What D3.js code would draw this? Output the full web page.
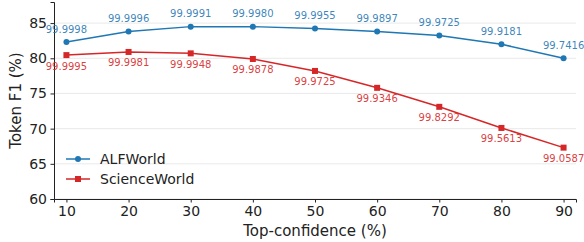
<!DOCTYPE html>
<html>
<head>
<meta charset="utf-8">
<script src="https://cdn.jsdelivr.net/npm/d3@7"></script>
<style>
  body { margin: 0; background: #fff; }
  text { font-family: "DejaVu Sans", sans-serif; }
</style>
</head>
<body>
<div id="root"></div>
<script>
const confidence = [10, 20, 30, 40, 50, 60, 70, 80, 90]
const alfworld = [82.3, 83.8, 84.5, 84.5, 84.25, 83.8, 83.25, 82.0, 80.0]
const alfLabels = ['99.9998', '99.9996', '99.9991', '99.9980', '99.9955', '99.9897', '99.9725', '99.9181', '99.7416']
const scienceworld = [80.45, 80.9, 80.7, 79.9, 78.2, 75.8, 73.1, 70.1, 67.3]
const sciLabels = ['99.9995', '99.9981', '99.9948', '99.9878', '99.9725', '99.9346', '99.8292', '99.5613', '99.0587']
const yTicks = [60, 65, 70, 75, 80, 85]

const width = 584
const height = 242
const margin = { top: 2, right: 8, bottom: 43, left: 54 }

const svg = d3.select('#root').append('svg')
  .attr('width', width)
  .attr('height', height)

const x = d3.scaleLinear().domain([8, 92]).range([margin.left, width - margin.right])
const y = d3.scaleLinear().domain([60, 88]).range([height - margin.bottom, margin.top])

// grid
svg.append('g')
  .selectAll('line')
  .data(yTicks)
  .join('line')
  .attr('x1', margin.left)
  .attr('x2', width - margin.right)
  .attr('y1', d => y(d))
  .attr('y2', d => y(d))
  .attr('stroke', '#e3e3e3')
  .attr('stroke-width', 0.8)

const xAxis = svg.append('g')
  .attr('transform', `translate(0,${height - margin.bottom})`)
  .call(d3.axisBottom(x).tickValues(confidence).tickSize(3.5).tickPadding(3.5))
const yAxis = svg.append('g')
  .attr('transform', `translate(${margin.left},0)`)
  .call(d3.axisLeft(y).tickValues(yTicks).tickSize(3.5).tickPadding(3.5))

for (const ax of [xAxis, yAxis]) {
  ax.selectAll('text').attr('font-size', 14).attr('fill', '#222').style('font-family', '"DejaVu Sans", sans-serif')
  ax.selectAll('line').attr('stroke', '#222')
  ax.select('.domain').attr('stroke', '#222')
}

svg.append('text')
  .attr('x', (margin.left + width - margin.right) / 2)
  .attr('y', 236)
  .attr('text-anchor', 'middle')
  .attr('font-size', 15)
  .attr('fill', '#222')
  .text('Top-confidence (%)')

svg.append('text')
  .attr('transform', `translate(21,${(margin.top + height - margin.bottom) / 2}) rotate(-90)`)
  .attr('text-anchor', 'middle')
  .attr('font-size', 15)
  .attr('fill', '#222')
  .text('Token F1 (%)')

const line = d3.line().x((d, i) => x(confidence[i])).y(d => y(d))

const series = [
  { name: 'ALFWorld', values: alfworld, labels: alfLabels, color: '#1f77b4', marker: 'circle', dy: -9.5 },
  { name: 'ScienceWorld', values: scienceworld, labels: sciLabels, color: '#d62728', marker: 'square', dy: 14.5 }
]

function marker (g, s, cx, cy) {
  if (s.marker === 'circle') {
    g.append('circle').attr('cx', cx).attr('cy', cy).attr('r', 3).attr('fill', s.color)
  } else {
    g.append('rect').attr('x', cx - 3).attr('y', cy - 3).attr('width', 6).attr('height', 6).attr('fill', s.color)
  }
}

series.forEach(s => {
  const g = svg.append('g')
  g.append('path')
    .datum(s.values)
    .attr('fill', 'none')
    .attr('stroke', s.color)
    .attr('stroke-width', 1.5)
    .attr('d', line)
  s.values.forEach((v, i) => marker(g, s, x(confidence[i]), y(v)))
  g.selectAll('text.lab')
    .data(s.values)
    .join('text')
    .attr('class', 'lab')
    .attr('x', (d, i) => x(confidence[i]))
    .attr('y', d => y(d) + s.dy)
    .attr('text-anchor', 'middle')
    .attr('font-size', 10)
    .attr('fill', s.color)
    .attr('fill-opacity', 0.9)
    .text((d, i) => s.labels[i])
})

// legend
series.forEach((s, i) => {
  const ly = 159 + i * 20
  const g = svg.append('g')
  g.append('line')
    .attr('x1', 66).attr('x2', 90)
    .attr('y1', ly).attr('y2', ly)
    .attr('stroke', s.color).attr('stroke-width', 1.5)
  marker(g, s, 78, ly)
  g.append('text')
    .attr('x', 100)
    .attr('y', ly + 5)
    .attr('font-size', 14)
    .attr('fill', '#222')
    .text(s.name)
})
</script>
</body>
</html>
